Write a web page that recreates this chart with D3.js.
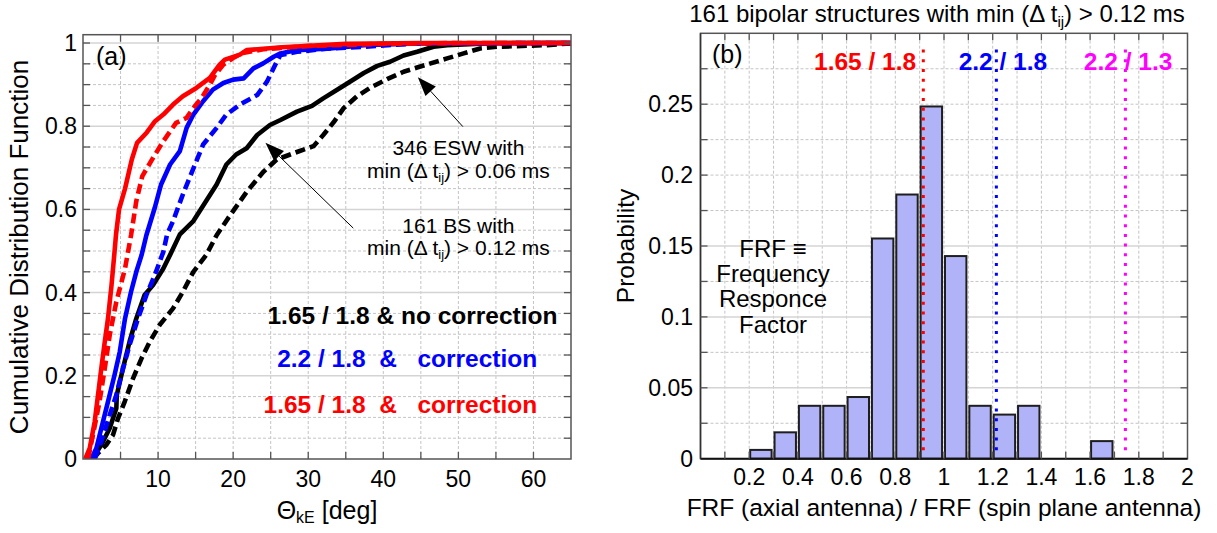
<!DOCTYPE html>
<html><head><meta charset="utf-8">
<script src="https://cdn.jsdelivr.net/npm/d3@7"></script>
<style>
html,body{margin:0;padding:0;background:#fff;}
svg{display:block;font-family:"Liberation Sans",Arial,sans-serif;}
.pre{white-space:pre;}
</style></head>
<body>
<svg id="chart" width="1217" height="533"></svg>
<script>
// ---------- DATA ----------
// Panel (a): cumulative distributions [theta_kE (deg), CDF]
const redSolid = [[0.3,0],[0.9,0.026],[1.56,0.09],[2.0,0.154],[2.44,0.218],[2.9,0.282],[3.33,0.338],[3.8,0.418],[4.2,0.498],[4.4,0.54],[4.8,0.6],[5.6,0.65],[6.5,0.72],[7.2,0.76],[8.5,0.785],[9.6,0.812],[10.7,0.828],[12,0.852],[13.3,0.872],[15.1,0.892],[16.9,0.916],[18.2,0.948],[18.9,0.96],[20.9,0.972],[21.8,0.983],[26.5,0.99],[35,0.998],[45,1],[65,1]];
const redDashed = [[0.67,0],[1.33,0.058],[2.2,0.138],[2.9,0.218],[3.56,0.298],[4.44,0.378],[5.6,0.458],[6.4,0.538],[7.1,0.62],[7.9,0.68],[9.33,0.724],[10.7,0.764],[12.4,0.808],[13.8,0.82],[14.7,0.844],[15.8,0.868],[16.9,0.9],[17.6,0.924],[18.7,0.948],[20,0.964],[21.3,0.976],[24,0.985],[30,0.993],[40,0.998],[50,1],[65,1]];
const blueSolid = [[1.1,0],[1.78,0.026],[2.44,0.074],[3.33,0.138],[4.2,0.202],[4.9,0.258],[5.6,0.338],[6.4,0.402],[7.1,0.45],[7.8,0.49],[8.44,0.538],[9.56,0.604],[10.4,0.66],[11.6,0.708],[12.9,0.74],[13.8,0.796],[14.7,0.828],[16,0.86],[17.3,0.888],[18.7,0.904],[20,0.912],[21.4,0.915],[22.7,0.939],[24,0.951],[25.4,0.967],[26.3,0.975],[28.5,0.983],[32.9,0.987],[37.4,0.995],[44.5,0.999],[65,1]];
const blueDashed = [[1.56,0],[2.44,0.042],[3.56,0.106],[4.44,0.154],[5.1,0.202],[6.2,0.274],[7.33,0.338],[8.44,0.394],[9.56,0.442],[10.7,0.498],[11.2,0.54],[12,0.572],[13.3,0.636],[14.2,0.676],[15.1,0.716],[16,0.756],[17.8,0.796],[19.1,0.828],[20.9,0.852],[23.2,0.875],[24.5,0.907],[25.8,0.955],[26.3,0.971],[28.5,0.979],[32.9,0.987],[37.4,0.991],[44.5,0.999],[65,1]];
const blackSolid = [[1.1,0],[1.56,0.01],[2.44,0.034],[3.56,0.074],[4.44,0.122],[4.5,0.154],[5.33,0.218],[6.2,0.282],[7.1,0.338],[8.2,0.394],[9.33,0.418],[10.7,0.458],[11.8,0.498],[12.9,0.54],[14.7,0.572],[16.4,0.62],[17.8,0.66],[19.1,0.708],[20.4,0.732],[21.8,0.747],[23.2,0.779],[24.9,0.803],[26.3,0.815],[28.5,0.835],[30.5,0.849],[32,0.867],[33.8,0.887],[35.4,0.905],[37.4,0.928],[39.2,0.945],[40.9,0.955],[42.7,0.97],[44.5,0.979],[46.7,0.991],[48.5,0.995],[55,1],[65,1]];
const blackDashed = [[1.33,0],[2,0.014],[3.1,0.034],[4,0.058],[4.67,0.098],[5.56,0.138],[6.67,0.194],[7.8,0.242],[8.9,0.282],[10.2,0.322],[12,0.362],[13.3,0.402],[14.7,0.45],[16.4,0.49],[17.8,0.538],[19.6,0.586],[21.8,0.642],[24,0.69],[25.8,0.72],[28.5,0.738],[30.7,0.752],[32,0.779],[33.4,0.81],[34.7,0.843],[36.5,0.872],[38.3,0.893],[40.5,0.913],[42.7,0.931],[44.5,0.941],[46.3,0.951],[48.5,0.963],[50.7,0.975],[52.9,0.987],[55.2,0.991],[61.8,0.995],[65,0.999]];

const aXTicks = [10,20,30,40,50,60];
const aYTicks = [0,0.2,0.4,0.6,0.8,1];

// Panel (b): histogram of FRF ratio (bin start, probability)
const binStarts = [0.2,0.3,0.4,0.5,0.6,0.7,0.8,0.9,1.0,1.1,1.2,1.3,1.4,1.5,1.6];
const probabilities = [0.0062,0.0186,0.0373,0.0373,0.0435,0.1553,0.1863,0.2484,0.1429,0.0373,0.0311,0.0373,0,0,0.0124];
const binWidth = 0.1;
const ratioLines = [0.915,1.215,1.745];
const ratioLabels = ["1.65 / 1.8","2.2 / 1.8","2.2 / 1.3"];
const ratioLabelX = [0.676,1.242,1.756];
const bXTicks = [0.2,0.4,0.6,0.8,1,1.2,1.4,1.6,1.8,2];
const bYTicks = [0,0.05,0.1,0.15,0.2,0.25];

// ---------- DRAWING ----------
const svg = d3.select("#chart");
const FONT = 23;

function grid(g, x, y, xv, yv, ySolid){
  xv.forEach(v=>{
    g.append("line").attr("x1",x(v)).attr("x2",x(v)).attr("y1",y.range()[0]).attr("y2",y.range()[1])
     .attr("stroke","#c4c4c4").attr("stroke-width",1).attr("stroke-dasharray","3,2");
  });
  yv.forEach(v=>{
    const solid = ySolid(v);
    g.append("line").attr("x1",x.range()[0]).attr("x2",x.range()[1]).attr("y1",y(v)).attr("y2",y(v))
     .attr("stroke",solid?"#d4d4d4":"#c4c4c4").attr("stroke-width",solid?1.5:1)
     .attr("stroke-dasharray",solid?null:"3,2");
  });
}
function ticks(g, x, y, xv, yv, len, col){
  const [x0,x1]=x.range(), [y0,y1]=y.range();
  xv.forEach(v=>{
    g.append("line").attr("x1",x(v)).attr("x2",x(v)).attr("y1",y0).attr("y2",y0-len).attr("stroke",col).attr("stroke-width",1.3);
    g.append("line").attr("x1",x(v)).attr("x2",x(v)).attr("y1",y1).attr("y2",y1+len).attr("stroke",col).attr("stroke-width",1.3);
  });
  yv.forEach(v=>{
    g.append("line").attr("x1",x0).attr("x2",x0+len).attr("y1",y(v)).attr("y2",y(v)).attr("stroke",col).attr("stroke-width",1.3);
    g.append("line").attr("x1",x1).attr("x2",x1-len).attr("y1",y(v)).attr("y2",y(v)).attr("stroke",col).attr("stroke-width",1.3);
  });
}
function frame(g, x, y, col){
  const [x0,x1]=x.range(), [y0,y1]=y.range();
  g.append("rect").attr("x",x0).attr("y",y1).attr("width",x1-x0).attr("height",y0-y1)
   .attr("fill","none").attr("stroke",col).attr("stroke-width",1.5);
}
function arrow(g, tip, tail){
  const dx=tip[0]-tail[0], dy=tip[1]-tail[1], L=Math.hypot(dx,dy), ux=dx/L, uy=dy/L;
  const hl=19, hw=7;
  const bx=tip[0]-ux*hl, by=tip[1]-uy*hl;
  g.append("line").attr("x1",tail[0]).attr("y1",tail[1]).attr("x2",bx).attr("y2",by).attr("stroke","#000").attr("stroke-width",1);
  g.append("path").attr("d",`M${tip[0]},${tip[1]}L${bx-uy*hw},${by+ux*hw}L${bx+uy*hw},${by-ux*hw}Z`).attr("fill","#000");
}

// ===== Panel (a) =====
const xA = d3.scaleLinear().domain([0,65]).range([83,571]);
const yA = d3.scaleLinear().domain([0,1.02]).range([459,34.7]);
const gA = svg.append("g");
grid(gA, xA, yA, d3.range(5,65,5), d3.range(1,21).map(i=>i*0.05),
     v=>Math.abs(v/0.2-Math.round(v/0.2))<1e-6);

const line = d3.line().x(d=>xA(d[0])).y(d=>yA(d[1]));
const series = [
  {d:blackDashed,c:"#000",dash:"10,5"},
  {d:blackSolid,c:"#000",dash:null},
  {d:blueDashed,c:"#0000ff",dash:"10,5"},
  {d:blueSolid,c:"#0000ff",dash:null},
  {d:redDashed,c:"#ff0000",dash:"10,5"},
  {d:redSolid,c:"#ff0000",dash:null}
];
const clipA = svg.append("clipPath").attr("id","clipA").append("rect")
  .attr("x",83).attr("y",30).attr("width",571-83+3).attr("height",459-30);
const curves = gA.append("g").attr("clip-path","url(#clipA)");
series.forEach(s=>{
  curves.append("path").attr("d",line(s.d)).attr("fill","none").attr("stroke",s.c)
   .attr("stroke-width",4.6).attr("stroke-dasharray",s.dash).attr("stroke-linejoin","round");
});
frame(gA, xA, yA, "#555");
ticks(gA, xA, yA, d3.range(5,65,5), d3.range(1,21).map(i=>i*0.05), 7, "#555");

// tick labels
aXTicks.forEach(v=>gA.append("text").attr("x",xA(v)).attr("y",487).attr("text-anchor","middle").attr("font-size",FONT).text(v));
aYTicks.forEach(v=>gA.append("text").attr("x",77).attr("y",yA(v)+8).attr("text-anchor","end").attr("font-size",FONT).text(v));

// axis titles
const xtA = gA.append("text").attr("x",(xA.range()[0]+xA.range()[1])/2).attr("y",519).attr("text-anchor","middle").attr("font-size",25);
xtA.append("tspan").text("Θ");
xtA.append("tspan").attr("font-size",16).attr("dy",4).text("kE");
xtA.append("tspan").attr("dy",-4).text(" [deg]");
gA.append("text").attr("transform","translate(28,247) rotate(-90)").attr("text-anchor","middle").attr("font-size",26)
  .text("Cumulative Distribution Function");
gA.append("text").attr("x",96).attr("y",65).attr("font-size",25).text("(a)");

// annotations
arrow(gA, [xA(44.6),yA(0.918)], [xA(50.6),yA(0.799)]);
arrow(gA, [xA(24.3),yA(0.760)], [xA(36),yA(0.555)]);
function annot(lines, xv, yvs){
  gA.append("text").attr("x",xA(xv)).attr("y",yA(yvs[0])).attr("text-anchor","middle").attr("font-size",21).text(lines);
  const t = gA.append("text").attr("x",xA(xv)).attr("y",yA(yvs[1])).attr("text-anchor","middle").attr("font-size",21);
  t.append("tspan").text("min (Δ t");
  t.append("tspan").attr("font-size",13).attr("dy",4).text("ij");
  t.append("tspan").attr("dy",-4).text(yvs[2]);
}
annot("346 ESW with", 50, [0.731,0.675,") > 0.06 ms"]);
annot("161 BS with", 50, [0.543,0.490,") > 0.12 ms"]);

// legend texts
const legend = [
  {t:"1.65 / 1.8 & no correction", c:"#000", x:63.2, y:0.325},
  {t:"2.2 / 1.8  &   correction", c:"#0000ff", x:60.5, y:0.221},
  {t:"1.65 / 1.8  &   correction", c:"#ff0000", x:60.5, y:0.111}
];
legend.forEach(l=>gA.append("text").attr("class","pre").attr("x",xA(l.x)).attr("y",yA(l.y))
  .attr("text-anchor","end").attr("font-size",24.5).attr("font-weight","bold").attr("fill",l.c).text(l.t));

// ===== Panel (b) =====
const xB = d3.scaleLinear().domain([0,2]).range([700.5,1187.5]);
const yB = d3.scaleLinear().domain([0,0.3]).range([458.7,33.3]);
const gB = svg.append("g");
grid(gB, xB, yB, d3.range(1,20).map(i=>i*0.1), d3.range(1,12).map(i=>i*0.025),
     v=>[0.05,0.1,0.15].some(s=>Math.abs(v-s)<1e-6));

binStarts.forEach((b,i)=>{
  const p = probabilities[i];
  if(p<=0) return;
  gB.append("rect").attr("x",xB(b)+1).attr("y",yB(p))
    .attr("width",xB(b+binWidth*0.92)-xB(b)-1).attr("height",yB(0)-yB(p))
    .attr("fill","#b1b3f9").attr("stroke","#1e1e1e").attr("stroke-width",2);
});
const lineCols = ["#ff0000","#0000ff","#ff00ff"];
ratioLines.forEach((v,i)=>{
  gB.append("line").attr("x1",xB(v)).attr("x2",xB(v)).attr("y1",yB(0.2885)).attr("y2",yB(0.004))
    .attr("stroke",lineCols[i]).attr("stroke-width",3).attr("stroke-dasharray","3,6.7");
});
ratioLabels.forEach((t,i)=>{
  gB.append("text").attr("x",xB(ratioLabelX[i])).attr("y",yB(0.274)).attr("text-anchor","middle")
    .attr("font-size",24.5).attr("font-weight","bold").attr("fill",lineCols[i]).text(t);
});
frame(gB, xB, yB, "#555");
gB.append("line").attr("x1",xB.range()[0]).attr("x2",xB.range()[1]).attr("y1",yB(0)).attr("y2",yB(0)).attr("stroke","#111").attr("stroke-width",2);
gB.append("line").attr("x1",xB.range()[0]).attr("x2",xB.range()[0]).attr("y1",yB(0)).attr("y2",yB(0.3)).attr("stroke","#333").attr("stroke-width",1.5);
ticks(gB, xB, yB, d3.range(1,20).map(i=>i*0.1), d3.range(1,12).map(i=>i*0.025), 7, "#555");

bXTicks.forEach(v=>gB.append("text").attr("x",xB(v)).attr("y",485).attr("text-anchor","middle").attr("font-size",FONT).text(v));
bYTicks.forEach(v=>gB.append("text").attr("x",693).attr("y",yB(v)+8).attr("text-anchor","end").attr("font-size",FONT).text(v));

gB.append("text").attr("x",(xB.range()[0]+xB.range()[1])/2).attr("y",516).attr("text-anchor","middle").attr("font-size",24.5)
  .text("FRF (axial antenna) / FRF (spin plane antenna)");
gB.append("text").attr("transform","translate(634,246) rotate(-90)").attr("text-anchor","middle").attr("font-size",24.5).text("Probability");
gB.append("text").attr("x",712).attr("y",63).attr("font-size",25).text("(b)");

const title = gB.append("text").attr("x",937).attr("y",22).attr("text-anchor","middle").attr("font-size",24);
title.append("tspan").text("161 bipolar structures with min (Δ t");
title.append("tspan").attr("font-size",15).attr("dy",5).text("ij");
title.append("tspan").attr("dy",-5).text(") > 0.12 ms");

const frfLines = ["FRF ≡","Frequency","Responce","Factor"];
const frfY = [257,282,307,333];
frfLines.forEach((t,i)=>gB.append("text").attr("x",xB(0.2977)).attr("y",frfY[i]).attr("text-anchor","middle").attr("font-size",24).text(t));
</script>
</body></html>
